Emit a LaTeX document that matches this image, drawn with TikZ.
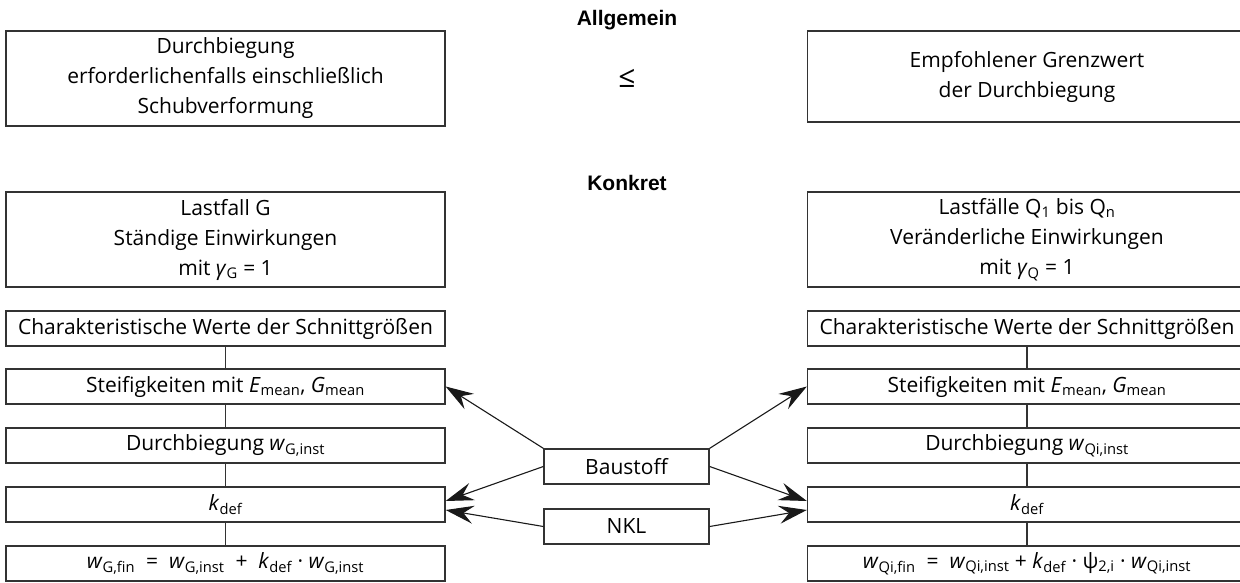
\documentclass[tikz,border=0pt]{standalone}
\usepackage{fontspec}
\setmainfont{Open Sans}
\newfontfamily\headfont{Liberation Sans}
\usetikzlibrary{arrows.meta}

\tikzset{
    box/.style={draw=black!80, line width=1.3pt, minimum width=439pt, minimum height=35pt,
        inner sep=0pt, align=center, font=\fontsize{21}{30}\selectfont},
    tallbox/.style={box, minimum height=95pt},
    head/.style={font=\headfont\bfseries\fontsize{21}{25}\selectfont},
    link/.style={draw=black!80, line width=1.3pt},
    arr/.style={draw=black!90, line width=1.1pt, -{Stealth[length=28pt, width=18pt, inset=10pt]}},
}

\begin{document}
\begin{tikzpicture}[x=1pt, y=-1pt]
        \useasboundingbox (0, 0) rectangle (1240, 583);
        \clip (0, 0) rectangle (1240, 583);

        \node[head] (allg) at (627, 20) {Allgemein};
        \node[tallbox] (durch) at (225.5, 78.5) {Durchbiegung\\erforderlichenfalls einschließlich\\Schubverformung};
        \node[font=\fontsize{30}{30}\selectfont] (leq) at (627, 78) {≤};
        \node[box, minimum height=91pt] (grenz) at (1027, 76.5) {Empfohlener Grenzwert\\der Durchbiegung};

        \node[head] (konk) at (627, 183) {Konkret};

        \node[tallbox] (gLast) at (225.5, 239.5) {Lastfall G\\Ständige Einwirkungen\\mit \textit{γ}\textsubscript{G} = 1};
        \node[box] (gChar) at (225.5, 328.5) {Charakteristische Werte der Schnittgrößen};
        \node[box] (gSteif) at (225.5, 386.5) {Steifigkeiten mit \textit{E}\textsubscript{mean}, \textit{G}\textsubscript{mean}};
        \node[box] (gDurch) at (225.5, 445.5) {Durchbiegung \textit{w}\textsubscript{G,inst}};
        \node[box] (gKdef) at (225.5, 504.5) {\textit{k}\textsubscript{def}};
        \node[box] (gFin) at (225.5, 563.5) {\textit{w}\textsubscript{G,fin}\ \ =\ \ \textit{w}\textsubscript{G,inst}\ \ +\ \ \textit{k}\textsubscript{def} · \textit{w}\textsubscript{G,inst}};

        \node[tallbox] (qLast) at (1027, 239.5) {Lastfälle Q\textsubscript{1} bis Q\textsubscript{n}\\Veränderliche Einwirkungen\\mit \textit{γ}\textsubscript{Q} = 1};
        \node[box] (qChar) at (1027, 328.5) {Charakteristische Werte der Schnittgrößen};
        \node[box] (qSteif) at (1027, 386.5) {Steifigkeiten mit \textit{E}\textsubscript{mean}, \textit{G}\textsubscript{mean}};
        \node[box] (qDurch) at (1027, 445.5) {Durchbiegung \textit{w}\textsubscript{Qi,inst}};
        \node[box] (qKdef) at (1027, 504.5) {\textit{k}\textsubscript{def}};
        \node[box] (qFin) at (1027, 563.5) {\textit{w}\textsubscript{Qi,fin}\ \ =\ \ \textit{w}\textsubscript{Qi,inst} + \textit{k}\textsubscript{def} · ψ\textsubscript{2,i} · \textit{w}\textsubscript{Qi,inst}};

        \node[box, minimum width=165pt] (bau) at (626.5, 466.5) {Baustoff};
        \node[box, minimum width=165pt] (nkl) at (626.5, 526.5) {NKL};

        \draw[link] (gChar) -- (gSteif);
        \draw[link] (gSteif) -- (gDurch);
        \draw[link] (gDurch) -- (gKdef);
        \draw[link] (gKdef) -- (gFin);
        \draw[link] (qChar) -- (qSteif);
        \draw[link] (qSteif) -- (qDurch);
        \draw[link] (qDurch) -- (qKdef);
        \draw[link] (qKdef) -- (qFin);

        \draw[arr] (bau.north west) -- (gSteif.east);
        \draw[arr] (bau.west) -- ([yshift=3.5pt]gKdef.east);
        \draw[arr] (nkl.west) -- ([yshift=-5.5pt]gKdef.east);
        \draw[arr] (bau.north east) -- (qSteif.west);
        \draw[arr] (bau.east) -- ([yshift=3.5pt]qKdef.west);
        \draw[arr] (nkl.east) -- ([yshift=-5.5pt]qKdef.west);
    \end{tikzpicture}
\end{document}
